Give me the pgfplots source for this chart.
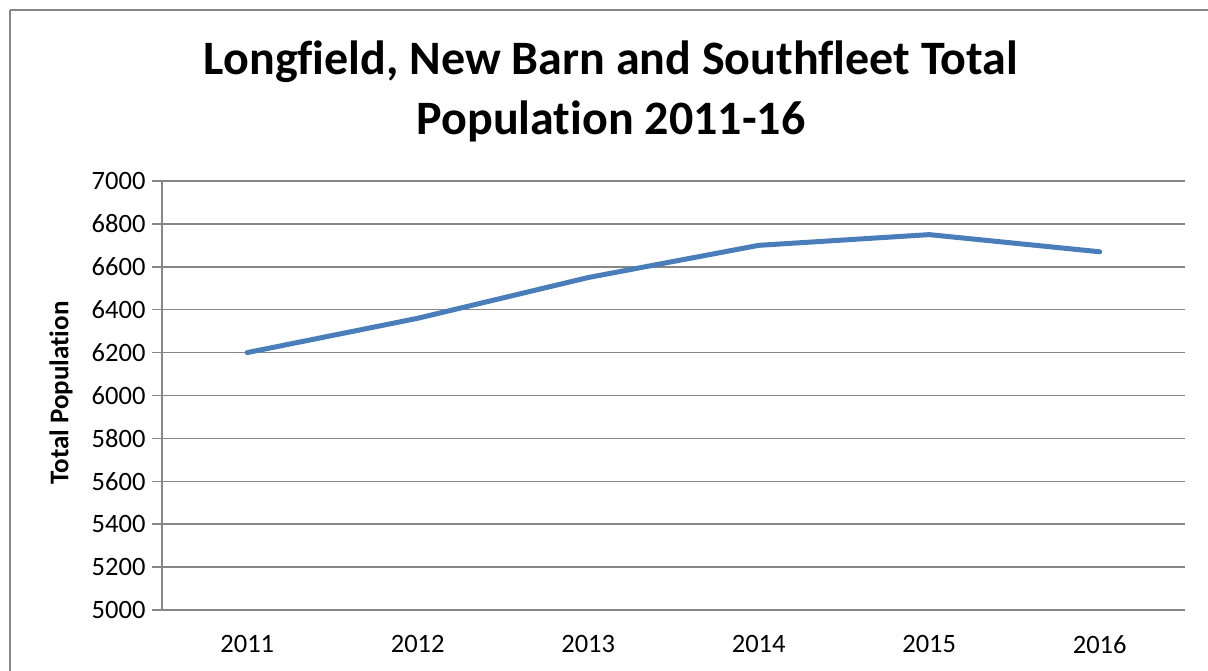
\documentclass[border=0pt]{standalone}
\usepackage{pgfplots}
\pgfplotsset{compat=1.18}
\usepackage{fontspec}
\setmainfont[Ligatures={NoCommon}]{Carlito}
\definecolor{linecol}{HTML}{4A7EBB}
\definecolor{gridcol}{HTML}{868686}
\begin{document}
\begin{tikzpicture}[x=1pt,y=1pt]
\path[use as bounding box] (0,0) rectangle (1208,670);
\begin{scope}
\clip (0,0) rectangle (1208,670);
\draw[gridcol, line width=1.5pt] (10,660) -- (1220,660);
\draw[gridcol, line width=1.5pt] (10,660) -- (10,-20);
\end{scope}
\node[font=\fontsize{48}{56}\selectfont\bfseries, align=center, anchor=base] at (611,595) {Longfield, New Barn and Southfleet Total};
\node[font=\fontsize{48}{56}\selectfont\bfseries, align=center, anchor=base] at (611,535) {Population 2011-16};
\node[font=\fontsize{27}{30}\selectfont\bfseries, rotate=90] at (61,277) {Total Population};
\begin{axis}[
  at={(162pt,60pt)}, anchor=south west,
  width=1023pt, height=429pt, scale only axis,
  xmin=-0.5, xmax=5.5, ymin=5000, ymax=7000,
  axis x line=bottom, axis y line=left,
  axis line style={gridcol, line width=1.5pt, -},
  xtick={0,1,2,3,4,5},
  xticklabels={2011,2012,2013,2014,2015,2016},
  major x tick style={draw=none},
  extra x ticks={-0.5,0.5,1.5,2.5,3.5,4.5,5.5},
  extra x tick labels={},
  extra x tick style={major tick length=10pt, tick style={gridcol, line width=1.5pt}, grid=none},
  ytick distance=200,
  ymajorgrids,
  major grid style={gridcol, line width=1.5pt},
  tick align=outside,
  major tick length=10pt,
  tick style={gridcol, line width=1.5pt},
  ticklabel style={font=\fontsize{26.5}{30}\selectfont, text=black},
  /pgf/number format/assume math mode=true,
  /pgf/number format/1000 sep={},
  yticklabel style={xshift=-3pt},
  xticklabel style={yshift=-12pt},
  clip=false,
]
\addplot[linecol, line width=5pt, line cap=round, line join=round] coordinates {
  (0,6200) (1,6360) (2,6550) (3,6700) (4,6750) (5,6670)
};
\end{axis}
\end{tikzpicture}
\end{document}
